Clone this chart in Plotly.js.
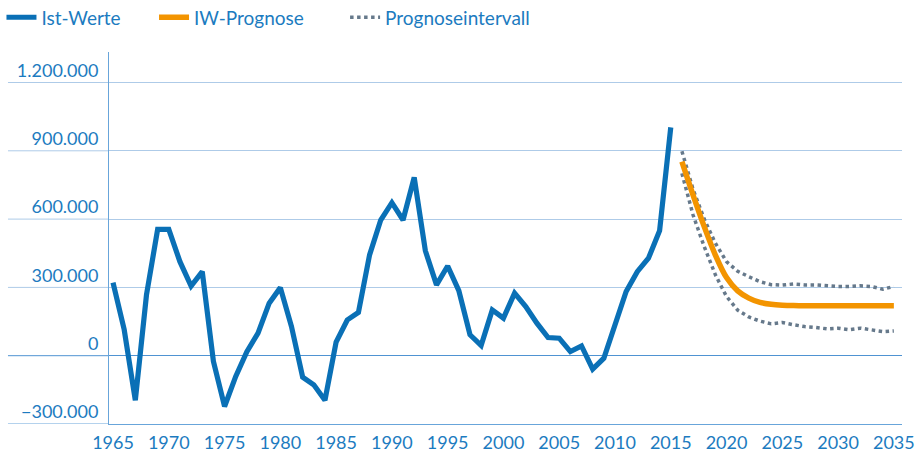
<!DOCTYPE html>
<html>
<head>
<meta charset="utf-8">
<script src="https://cdn.plot.ly/plotly-3.0.1.min.js"></script>
<style>
  html, body { margin: 0; padding: 0; background: #ffffff; }
  #chart { width: 920px; height: 453px; }
</style>
</head>
<body>
<div id="chart"></div>
<script>
// ---- data ----
const histYears = [1965,1966,1967,1968,1969,1970,1971,1972,1973,1974,
                   1975,1976,1977,1978,1979,1980,1981,1982,1983,1984,
                   1985,1986,1987,1988,1989,1990,1991,1992,1993,1994,
                   1995,1996,1997,1998,1999,2000,2001,2002,2003,2004,
                   2005,2006,2007,2008,2009,2010,2011,2012,2013,2014,2015];
const istWerte = [321000,115000,-196000,267000,555000,555000,413000,306000,369000,-25000,
                  -223000,-91000,18000,99000,231000,299000,128000,-94000,-128000,-196000,
                  60000,157000,190000,443000,596000,672000,596000,783000,461000,311000,
                  394000,286000,92000,45000,201000,165000,275000,216000,143000,80000,
                  77000,18000,43000,-59000,-11000,128000,282000,369000,428000,549000,1003000];

const progYears = [2016,2017,2018,2019,2020,2021,2022,2023,2024,2025,
                   2026,2027,2028,2029,2030,2031,2032,2033,2034,2035];
const iwPrognose = [852000,705000,567000,442000,343000,285000,253000,234000,226000,222000,
                    220000,219000,219000,219000,219000,219000,219000,219000,219000,219000];
const intervallOben = [898000,731000,600000,494000,413000,371000,347000,325000,312000,310000,
                       315000,311000,311000,307000,304000,304000,307000,304000,292000,304000];
const intervallUnten = [801000,618000,479000,355000,260000,200000,170000,152000,140000,146000,
                        136000,128000,124000,118000,121000,114000,121000,114000,106000,109000];

const seriesNames = ['Ist-Werte', 'IW-Prognose', 'Prognoseintervall'];
const yTickVals = [-300000, 0, 300000, 600000, 900000, 1200000];
const xTickVals = [1965,1970,1975,1980,1985,1990,1995,2000,2005,2010,2015,2020,2025,2030,2035];

// ---- styles ----
const FONT = 'Lato, "Open Sans", sans-serif';
const TEXT_BLUE = '#1c7bc0';
const LINE_BLUE = '#0a70b6';
const ORANGE = '#f39400';
const GREY = '#66798b';
const GRID = '#aecbe8';
const AXIS = '#68a5da';
const ZERO = '#4f93d2';

const traces = [
  { x: histYears, y: istWerte, name: seriesNames[0], type: 'scatter', mode: 'lines',
    line: { color: LINE_BLUE, width: 5.2 }, legend: 'legend', hoverinfo: 'x+y' },
  { x: progYears, y: intervallOben, name: seriesNames[2], type: 'scatter', mode: 'lines',
    line: { color: GREY, width: 3.5, dash: 'dot' }, legend: 'legend3', legendgroup: 'pi' },
  { x: progYears, y: intervallUnten, name: seriesNames[2], type: 'scatter', mode: 'lines',
    line: { color: GREY, width: 3.5, dash: 'dot' }, legend: 'legend3', legendgroup: 'pi', showlegend: false },
  { x: progYears, y: iwPrognose, name: seriesNames[1], type: 'scatter', mode: 'lines',
    line: { color: ORANGE, width: 5.5, shape: 'spline', smoothing: 0.8 }, legend: 'legend2' }
];

// grid line extensions to the left of the y axis (under the tick labels)
const shapes = yTickVals.map(v => ({
  type: 'line', xref: 'paper', yref: 'y', x0: -0.1274, x1: 0, y0: v, y1: v,
  line: { color: v === 0 ? ZERO : (v === -300000 ? AXIS : GRID), width: 1 }, layer: 'below'
}));

const legendBase = {
  orientation: 'h', yanchor: 'middle', xanchor: 'left', y: 1.093,
  font: { family: FONT, size: 19, color: TEXT_BLUE },
  bgcolor: 'rgba(0,0,0,0)', borderwidth: 0, itemwidth: 30, itemclick: false, itemdoubleclick: false
};

const layout = {
  width: 920, height: 453,
  margin: { l: 109, r: 18, t: 52, b: 29, pad: 0, autoexpand: false },
  paper_bgcolor: '#ffffff', plot_bgcolor: '#ffffff',
  separators: ',.',
  font: { family: FONT, size: 18, color: TEXT_BLUE },
  xaxis: {
    range: [1964.64, 2035.73], tickvals: xTickVals, ticktext: xTickVals.map(String),
    showgrid: false, zeroline: false, showline: true, linecolor: AXIS, linewidth: 1,
    ticks: '', tickfont: { family: FONT, size: 18, color: TEXT_BLUE }, ticklabelstandoff: 2,
    automargin: false
  },
  yaxis: {
    range: [-300000, 1334000], tickvals: yTickVals, tickformat: ',d',
    showgrid: true, gridcolor: GRID, gridwidth: 1,
    zeroline: true, zerolinecolor: ZERO, zerolinewidth: 1,
    showline: true, linecolor: AXIS, linewidth: 1,
    ticks: '', tickfont: { family: FONT, size: 18, color: TEXT_BLUE },
    ticklabelshift: -12, ticklabelstandoff: 6, automargin: false
  },
  shapes: shapes,
  showlegend: true,
  legend: Object.assign({}, legendBase, { x: -0.1356 }),
  legend2: Object.assign({}, legendBase, { x: 0.0568 }),
  legend3: Object.assign({}, legendBase, { x: 0.2977 })
};

Plotly.newPlot('chart', traces, layout, { displayModeBar: false, staticPlot: true });
</script>
</body>
</html>
